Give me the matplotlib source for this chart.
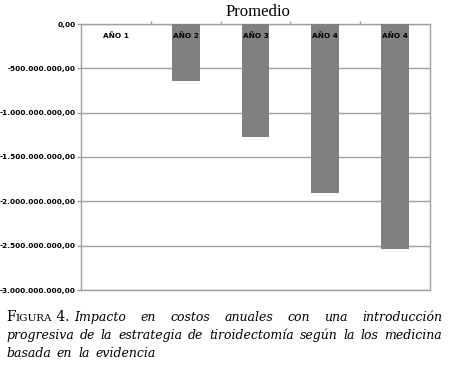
import matplotlib.pyplot as plt
from matplotlib.ticker import FuncFormatter, FixedLocator
from matplotlib.transforms import blended_transform_factory

# datos
categorias = ['AÑO 1', 'AÑO 2', 'AÑO 3', 'AÑO 4', 'AÑO 4']
promedio = [0, -643e6, -1274e6, -1906e6, -2537e6]
y_ticks = [0, -500e6, -1000e6, -1500e6, -2000e6, -2500e6, -3000e6]

caption_lines = [
    'Impacto en costos anuales con una introducción',
    'progresiva de la estrategia de tiroidectomía según la los medicina',
    'basada en la evidencia',
]


def fmt(v, pos):
    s = '{:,.2f}'.format(v)
    return s.replace(',', 'X').replace('.', ',').replace('X', '.')


fig = plt.figure(figsize=(4.54, 3.68), dpi=100)
ax = fig.add_axes([81 / 454, 1 - 290 / 368, 349 / 454, 266 / 368])

x = list(range(len(categorias)))
ax.bar(x, promedio, width=0.4, color='#808080', zorder=3)

ax.set_xlim(-0.5, len(categorias) - 0.5)
ax.set_ylim(-3000e6, 0)
ax.yaxis.set_major_locator(FixedLocator(y_ticks))
ax.yaxis.set_major_formatter(FuncFormatter(fmt))
ax.grid(axis='y', color='#a0a0a0', lw=1, zorder=1)
ax.tick_params(axis='y', length=3, width=1, color='#a0a0a0', pad=1,
               labelsize=5.3)
for lbl in ax.get_yticklabels():
    lbl.set_fontweight('bold')

ax.xaxis.tick_top()
ax.set_xticks([i + 0.5 for i in x[:-1]])
ax.set_xticklabels([])
ax.tick_params(axis='x', length=2.5, width=1, color='#a0a0a0')

for s in ax.spines.values():
    s.set_color('#a0a0a0')
    s.set_linewidth(1)

tr = blended_transform_factory(ax.transData, ax.transAxes)
for i, c in zip(x, categorias):
    ax.text(i, 0.955, c, transform=tr, ha='center', va='center',
            fontsize=5.3, fontweight='bold', zorder=4)

fig.text(258 / 454, 1 - 12 / 368, 'Promedio', ha='center', va='center',
         fontsize=12, family='Liberation Serif')

# pie de figura, justificado palabra por palabra
fig.canvas.draw()
renderer = fig.canvas.get_renderer()
left, right = 6, 442
base_y = [321, 339, 357]
cap_font = dict(family='DejaVu Serif', style='italic', fontsize=9.0)

def width_px(t):
    bb = t.get_window_extent(renderer=renderer)
    return bb.width

# "FIGURA 4." en versalitas
y0 = 1 - base_y[0] / 368
t1 = fig.text(left / 454, y0, 'F', fontsize=10, family='DejaVu Serif', va='baseline')
xcur = left + width_px(t1)
t2 = fig.text(xcur / 454, y0, 'IGURA', fontsize=7.5, family='DejaVu Serif', va='baseline')
xcur += width_px(t2)
t3 = fig.text(xcur / 454, y0, ' 4.', fontsize=10, family='DejaVu Serif', va='baseline')
xcur += width_px(t3) + 5

for n, line in enumerate(caption_lines):
    y = 1 - base_y[n] / 368
    start = xcur if n == 0 else left
    words = line.split(' ')
    texts = [fig.text(0, y, w, va='baseline', **cap_font) for w in words]
    widths = [width_px(t) for t in texts]
    if n < len(caption_lines) - 1:
        gap = (right - start - sum(widths)) / (len(words) - 1)
    else:
        gap = 6
    xp = start
    for t, w in zip(texts, widths):
        t.set_x(xp / 454)
        xp += w + gap

fig.savefig('out.png', dpi=100)
